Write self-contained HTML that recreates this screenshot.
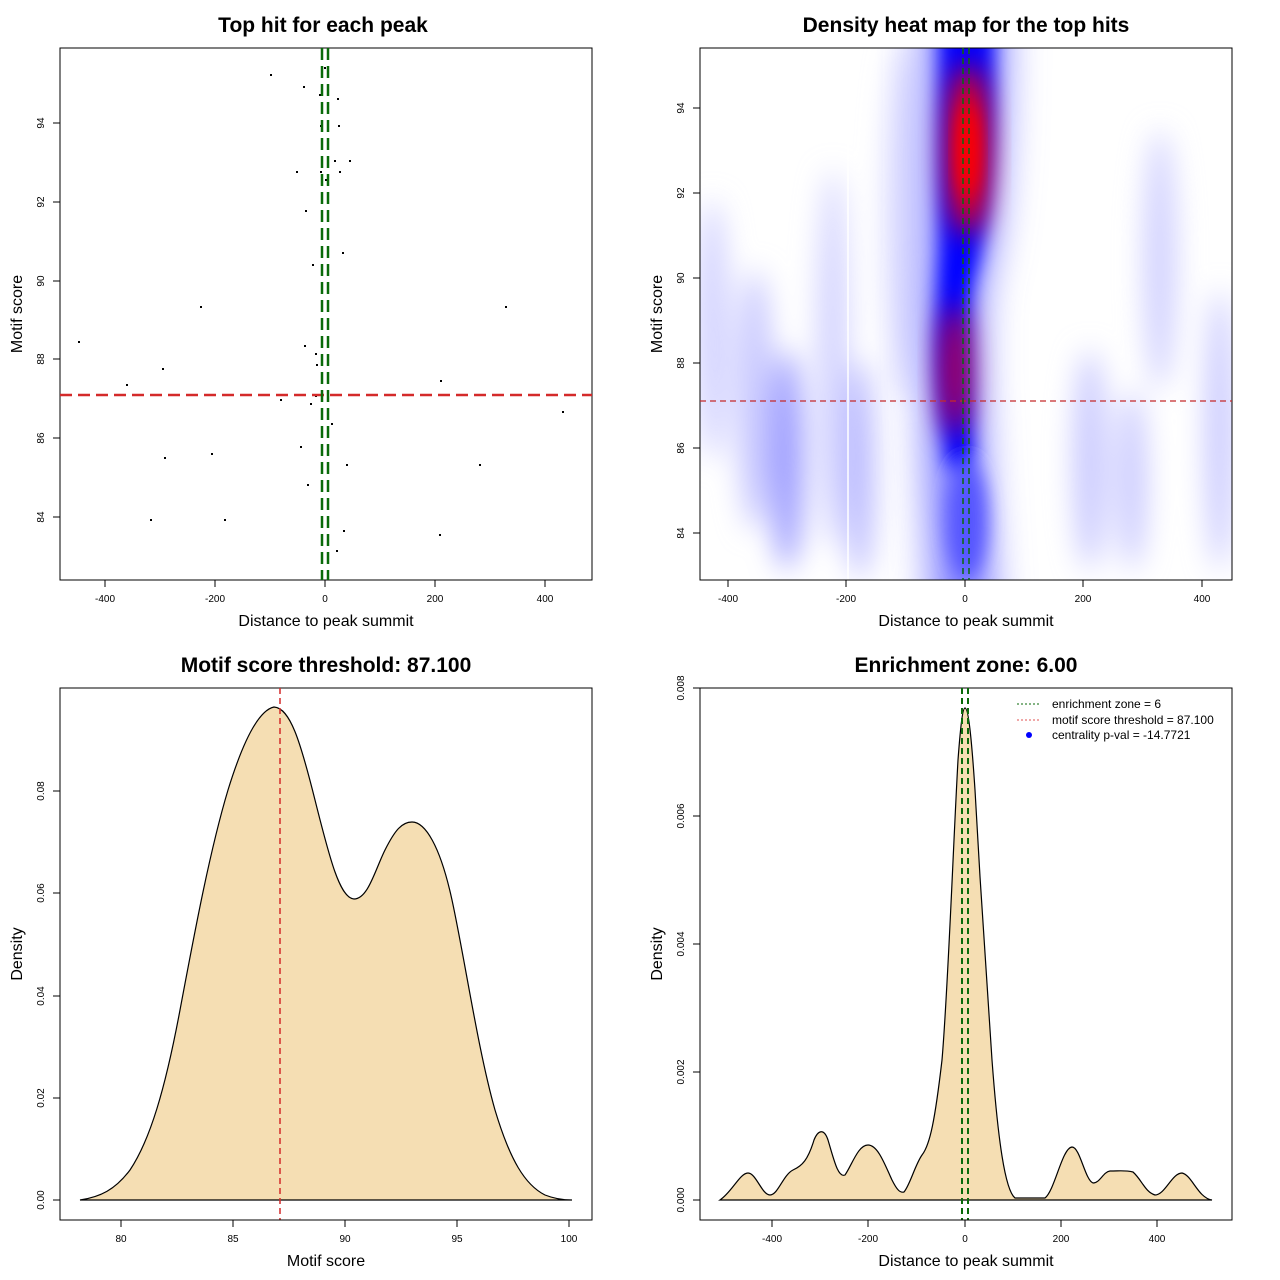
<!DOCTYPE html>
<html><head><meta charset="utf-8"><style>
html,body{margin:0;padding:0;background:#fff}
svg{display:block;font-family:"Liberation Sans",sans-serif}
.t{font-size:21px;font-weight:bold;text-anchor:middle}
.al{font-size:16px;text-anchor:middle}
.tk{font-size:10px;text-anchor:middle}
</style></head><body>
<svg width="1280" height="1280" viewBox="0 0 1280 1280" xmlns="http://www.w3.org/2000/svg">
<defs>
<filter id="b1" x="-50%" y="-50%" width="200%" height="200%"><feGaussianBlur stdDeviation="14"/></filter>
<filter id="b2" x="-50%" y="-50%" width="200%" height="200%"><feGaussianBlur stdDeviation="9"/></filter>
<filter id="b4" x="-100%" y="-50%" width="300%" height="200%"><feGaussianBlur stdDeviation="20"/></filter>
<clipPath id="c2"><rect x="700" y="48" width="532" height="532"/></clipPath>
</defs>
<rect width="1280" height="1280" fill="#fff"/>

<!-- Panel 1 -->
<text class="t" x="323" y="32">Top hit for each peak</text>
<rect x="60" y="48" width="532" height="532" fill="none" stroke="#000"/>
<g stroke="#000">
<line x1="105" y1="580" x2="545" y2="580"/>
<line x1="105" y1="580" x2="105" y2="587"/><line x1="215" y1="580" x2="215" y2="587"/><line x1="325" y1="580" x2="325" y2="587"/><line x1="435" y1="580" x2="435" y2="587"/><line x1="545" y1="580" x2="545" y2="587"/>
<line x1="60" y1="123" x2="60" y2="517"/>
<line x1="53" y1="123" x2="60" y2="123"/><line x1="53" y1="202" x2="60" y2="202"/><line x1="53" y1="281" x2="60" y2="281"/><line x1="53" y1="359" x2="60" y2="359"/><line x1="53" y1="438" x2="60" y2="438"/><line x1="53" y1="517" x2="60" y2="517"/>
</g>
<g class="tk"><text x="105" y="602">-400</text><text x="215" y="602">-200</text><text x="325" y="602">0</text><text x="435" y="602">200</text><text x="545" y="602">400</text></g>
<g class="tk">
<text transform="translate(44,123) rotate(-90)">94</text><text transform="translate(44,202) rotate(-90)">92</text><text transform="translate(44,281) rotate(-90)">90</text><text transform="translate(44,359) rotate(-90)">88</text><text transform="translate(44,438) rotate(-90)">86</text><text transform="translate(44,517) rotate(-90)">84</text>
</g>
<text class="al" x="326" y="626">Distance to peak summit</text>
<text class="al" transform="translate(22,314) rotate(-90)">Motif score</text>
<g fill="#000">
<rect x="270" y="74" width="2" height="2"/><rect x="303" y="86" width="2" height="2"/><rect x="324" y="67" width="2" height="2"/><rect x="319" y="94" width="2" height="2"/><rect x="337" y="98" width="2" height="2"/><rect x="320" y="125" width="2" height="2"/><rect x="338" y="125" width="2" height="2"/><rect x="334" y="160" width="2" height="2"/><rect x="349" y="160" width="2" height="2"/><rect x="296" y="171" width="2" height="2"/><rect x="320" y="171" width="2" height="2"/><rect x="339" y="171" width="2" height="2"/><rect x="325" y="179" width="2" height="2"/><rect x="305" y="210" width="2" height="2"/><rect x="342" y="252" width="2" height="2"/><rect x="312" y="264" width="2" height="2"/><rect x="321" y="268" width="2" height="2"/><rect x="200" y="306" width="2" height="2"/><rect x="505" y="306" width="2" height="2"/><rect x="78" y="341" width="2" height="2"/><rect x="304" y="345" width="2" height="2"/><rect x="315" y="353" width="2" height="2"/><rect x="316" y="364" width="2" height="2"/><rect x="162" y="368" width="2" height="2"/><rect x="126" y="384" width="2" height="2"/><rect x="440" y="380" width="2" height="2"/><rect x="315" y="395" width="2" height="2"/><rect x="280" y="399" width="2" height="2"/><rect x="310" y="403" width="2" height="2"/><rect x="562" y="411" width="2" height="2"/><rect x="331" y="423" width="2" height="2"/><rect x="300" y="446" width="2" height="2"/><rect x="164" y="457" width="2" height="2"/><rect x="211" y="453" width="2" height="2"/><rect x="346" y="464" width="2" height="2"/><rect x="479" y="464" width="2" height="2"/><rect x="307" y="484" width="2" height="2"/><rect x="150" y="519" width="2" height="2"/><rect x="224" y="519" width="2" height="2"/><rect x="343" y="530" width="2" height="2"/><rect x="439" y="534" width="2" height="2"/><rect x="336" y="550" width="2" height="2"/>
</g>
<line x1="60" y1="395" x2="592" y2="395" stroke="#d42a2a" stroke-width="2.5" stroke-dasharray="12,6"/>
<line x1="322" y1="48" x2="322" y2="580" stroke="#0a6a0a" stroke-width="2.5" stroke-dasharray="12,6"/>
<line x1="328" y1="48" x2="328" y2="580" stroke="#0a6a0a" stroke-width="2.5" stroke-dasharray="12,6"/>

<!-- Panel 2 heatmap -->
<text class="t" x="966" y="32">Density heat map for the top hits</text>
<g clip-path="url(#c2)">
<rect x="700" y="48" width="532" height="532" fill="#fff"/>
<g filter="url(#b1)">
<ellipse cx="787" cy="460" rx="16" ry="110" fill="#9a9aff"/>
<ellipse cx="755" cy="400" rx="18" ry="130" fill="#c8c8ff"/>
<ellipse cx="712" cy="330" rx="16" ry="130" fill="#d0d0ff"/>
<ellipse cx="833" cy="360" rx="16" ry="190" fill="#c8c8ff" opacity="0.8"/>
<ellipse cx="860" cy="470" rx="14" ry="110" fill="#b8b8ff"/>
<ellipse cx="905" cy="220" rx="20" ry="180" fill="#dcdcff"/>
<ellipse cx="1090" cy="460" rx="16" ry="110" fill="#c8c8ff"/>
<ellipse cx="1132" cy="480" rx="14" ry="90" fill="#c8c8ff"/>
<ellipse cx="1160" cy="260" rx="16" ry="130" fill="#d0d0ff"/>
<ellipse cx="1220" cy="430" rx="14" ry="140" fill="#c8c8ff"/>
</g>
<g filter="url(#b4)">
<path d="M925 0 L1005 0 C1005 150 1000 230 985 280 C975 330 985 460 995 640 L935 640 C925 460 920 350 925 250 Z" fill="#8080ff"/>
</g>
<g filter="url(#b2)">
<path d="M940 0 L993 0 C995 150 988 230 973 280 C963 330 970 420 975 470 L948 470 C938 400 933 350 940 250 Z" fill="#0000ff"/>
<ellipse cx="967" cy="520" rx="20" ry="60" fill="#5555ff"/>
</g>
<g filter="url(#b1)">
<ellipse cx="968" cy="150" rx="20" ry="85" fill="#ff0000"/>
<ellipse cx="955" cy="370" rx="14" ry="65" fill="#c00040"/>
</g>
<ellipse cx="968" cy="150" rx="10" ry="45" fill="#ff0000" filter="url(#b2)"/>
<line x1="848" y1="48" x2="848" y2="580" stroke="#fff" stroke-width="1.5"/>
</g>
<rect x="700" y="48" width="532" height="532" fill="none" stroke="#000"/>
<g stroke="#000">
<line x1="728" y1="580" x2="1202" y2="580"/>
<line x1="728" y1="580" x2="728" y2="587"/><line x1="846" y1="580" x2="846" y2="587"/><line x1="965" y1="580" x2="965" y2="587"/><line x1="1083" y1="580" x2="1083" y2="587"/><line x1="1202" y1="580" x2="1202" y2="587"/>
<line x1="700" y1="108" x2="700" y2="533"/>
<line x1="693" y1="108" x2="700" y2="108"/><line x1="693" y1="193" x2="700" y2="193"/><line x1="693" y1="278" x2="700" y2="278"/><line x1="693" y1="363" x2="700" y2="363"/><line x1="693" y1="448" x2="700" y2="448"/><line x1="693" y1="533" x2="700" y2="533"/>
</g>
<g class="tk"><text x="728" y="602">-400</text><text x="846" y="602">-200</text><text x="965" y="602">0</text><text x="1083" y="602">200</text><text x="1202" y="602">400</text></g>
<g class="tk">
<text transform="translate(684,108) rotate(-90)">94</text><text transform="translate(684,193) rotate(-90)">92</text><text transform="translate(684,278) rotate(-90)">90</text><text transform="translate(684,363) rotate(-90)">88</text><text transform="translate(684,448) rotate(-90)">86</text><text transform="translate(684,533) rotate(-90)">84</text>
</g>
<text class="al" x="966" y="626">Distance to peak summit</text>
<text class="al" transform="translate(662,314) rotate(-90)">Motif score</text>
<line x1="700" y1="401" x2="1232" y2="401" stroke="#c42a2a" stroke-width="1.3" stroke-dasharray="6,4"/>
<line x1="963" y1="48" x2="963" y2="580" stroke="#0a6a0a" stroke-width="1.5" stroke-dasharray="6,4"/>
<line x1="969" y1="48" x2="969" y2="580" stroke="#0a6a0a" stroke-width="1.5" stroke-dasharray="6,4"/>

<!-- Panel 3 -->
<text class="t" x="326" y="672">Motif score threshold: 87.100</text>
<path d="M80 1200 C100 1197 115 1190 130 1170 C150 1140 165 1090 180 1010 C195 930 210 850 228 790 C245 735 260 710 274 707 C290 708 300 740 315 800 C330 860 340 898 354 899 C368 899 375 870 385 850 C395 830 402 822 412 822 C425 822 440 845 452 900 C465 960 478 1050 495 1110 C510 1160 525 1185 545 1195 C555 1199 565 1200 572 1200 Z" fill="#f5deb3" stroke="#000" stroke-width="1.2"/>
<line x1="80" y1="1200" x2="572" y2="1200" stroke="#000"/>
<rect x="60" y="688" width="532" height="532" fill="none" stroke="#000"/>
<line x1="280" y1="688" x2="280" y2="1220" stroke="#d42a2a" stroke-width="1.5" stroke-dasharray="6,4"/>
<g stroke="#000">
<line x1="121" y1="1220" x2="569" y2="1220"/>
<line x1="121" y1="1220" x2="121" y2="1227"/><line x1="233" y1="1220" x2="233" y2="1227"/><line x1="345" y1="1220" x2="345" y2="1227"/><line x1="457" y1="1220" x2="457" y2="1227"/><line x1="569" y1="1220" x2="569" y2="1227"/>
<line x1="60" y1="791" x2="60" y2="1200"/>
<line x1="53" y1="1200" x2="60" y2="1200"/><line x1="53" y1="1098" x2="60" y2="1098"/><line x1="53" y1="996" x2="60" y2="996"/><line x1="53" y1="893" x2="60" y2="893"/><line x1="53" y1="791" x2="60" y2="791"/>
</g>
<g class="tk"><text x="121" y="1242">80</text><text x="233" y="1242">85</text><text x="345" y="1242">90</text><text x="457" y="1242">95</text><text x="569" y="1242">100</text></g>
<g class="tk">
<text transform="translate(44,1200) rotate(-90)">0.00</text><text transform="translate(44,1098) rotate(-90)">0.02</text><text transform="translate(44,996) rotate(-90)">0.04</text><text transform="translate(44,893) rotate(-90)">0.06</text><text transform="translate(44,791) rotate(-90)">0.08</text>
</g>
<text class="al" x="326" y="1266">Motif score</text>
<text class="al" transform="translate(22,954) rotate(-90)">Density</text>

<!-- Panel 4 -->
<text class="t" x="966" y="672">Enrichment zone: 6.00</text>
<path d="M720 1200 C732 1192 740 1173 748 1173 C756 1173 762 1195 770 1195 C778 1195 783 1175 793 1170 C802 1166 808 1160 814 1140 C818 1130 824 1128 828 1140 C834 1160 838 1178 845 1175 C852 1165 858 1145 868 1145 C878 1145 885 1165 892 1180 C897 1190 900 1193 904 1192 C910 1185 915 1165 922 1155 C930 1145 935 1120 942 1060 C948 990 953 850 958 760 C961 720 963 708 965 708 C968 708 971 730 975 790 C980 880 985 960 992 1060 C998 1140 1005 1190 1015 1198 L1045 1198 C1055 1190 1062 1148 1072 1147 C1080 1147 1085 1180 1093 1183 C1100 1183 1103 1172 1110 1171 C1120 1171 1125 1170 1133 1172 C1142 1180 1145 1192 1155 1195 C1165 1195 1172 1173 1182 1173 C1192 1175 1198 1198 1212 1200 Z" fill="#f5deb3" stroke="#000" stroke-width="1.2"/>
<line x1="720" y1="1200" x2="1212" y2="1200" stroke="#000"/>
<rect x="700" y="688" width="532" height="532" fill="none" stroke="#000"/>
<line x1="962" y1="688" x2="962" y2="1220" stroke="#0a6a0a" stroke-width="2" stroke-dasharray="6,4"/>
<line x1="968" y1="688" x2="968" y2="1220" stroke="#0a6a0a" stroke-width="2" stroke-dasharray="6,4"/>
<g stroke="#000">
<line x1="772" y1="1220" x2="1157" y2="1220"/>
<line x1="772" y1="1220" x2="772" y2="1227"/><line x1="868" y1="1220" x2="868" y2="1227"/><line x1="965" y1="1220" x2="965" y2="1227"/><line x1="1061" y1="1220" x2="1061" y2="1227"/><line x1="1157" y1="1220" x2="1157" y2="1227"/>
<line x1="700" y1="688" x2="700" y2="1200"/>
<line x1="693" y1="1200" x2="700" y2="1200"/><line x1="693" y1="1072" x2="700" y2="1072"/><line x1="693" y1="944" x2="700" y2="944"/><line x1="693" y1="816" x2="700" y2="816"/><line x1="693" y1="688" x2="700" y2="688"/>
</g>
<g class="tk"><text x="772" y="1242">-400</text><text x="868" y="1242">-200</text><text x="965" y="1242">0</text><text x="1061" y="1242">200</text><text x="1157" y="1242">400</text></g>
<g class="tk">
<text transform="translate(684,1200) rotate(-90)">0.000</text><text transform="translate(684,1072) rotate(-90)">0.002</text><text transform="translate(684,944) rotate(-90)">0.004</text><text transform="translate(684,816) rotate(-90)">0.006</text><text transform="translate(684,688) rotate(-90)">0.008</text>
</g>
<text class="al" x="966" y="1266">Distance to peak summit</text>
<text class="al" transform="translate(662,954) rotate(-90)">Density</text>
<line x1="1017" y1="704" x2="1041" y2="704" stroke="#0a6a0a" stroke-dasharray="2,2"/>
<line x1="1017" y1="720" x2="1041" y2="720" stroke="#e05050" stroke-dasharray="2,2"/>
<circle cx="1029" cy="735" r="3" fill="#00f"/>
<g font-size="12">
<text x="1052" y="708">enrichment zone = 6</text>
<text x="1052" y="724">motif score threshold = 87.100</text>
<text x="1052" y="739">centrality p-val = -14.7721</text>
</g>
</svg>
</body></html>
